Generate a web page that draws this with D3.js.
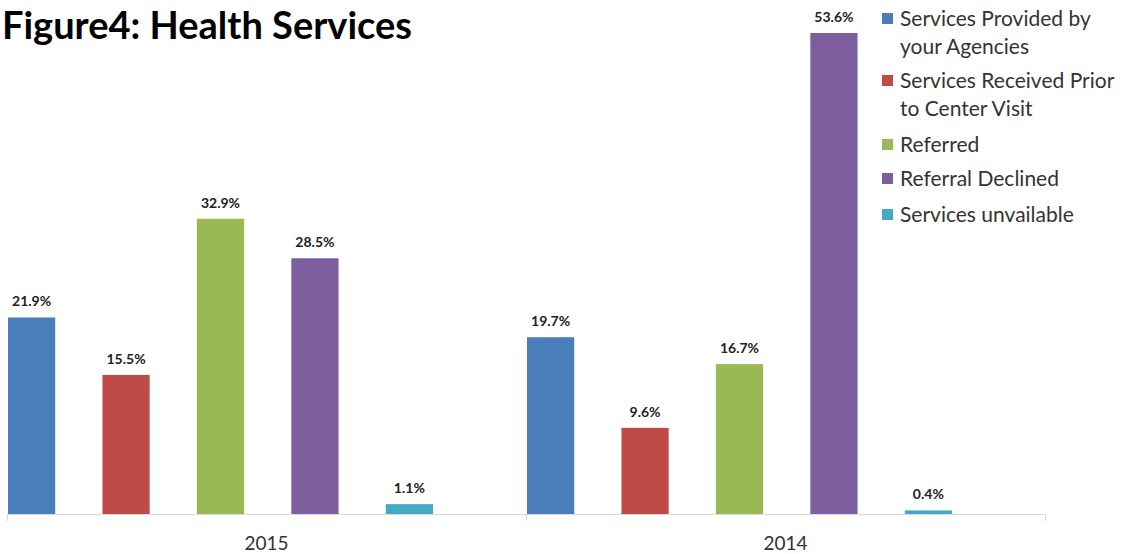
<!DOCTYPE html>
<html><head><meta charset="utf-8">
<script src="https://cdn.jsdelivr.net/npm/d3@7"></script>
<style>html,body{margin:0;padding:0;background:#fff;}svg{display:block;}</style>
</head><body>
<svg id="chart" width="1125" height="554"></svg>
<script>
const title = "Figure4: Health Services";
const categories = ["2015", "2014"];
const seriesNames = [
  ["Services Provided by", "your Agencies"],
  ["Services Received Prior", "to Center Visit"],
  ["Referred"],
  ["Referral Declined"],
  ["Services unvailable"]
];
const seriesColors = ["#4a7ebb", "#be4b48", "#98b954", "#7d5fa0", "#46aac5"];
const values2015 = [21.9, 15.5, 32.9, 28.5, 1.1];
const values2014 = [19.7, 9.6, 16.7, 53.6, 0.4];
const valuesByCategory = [values2015, values2014];

const svg = d3.select("#chart");
const font = "Lato, 'Open Sans', sans-serif";

const x0 = d3.scaleBand().domain(categories).range([7, 1045]).padding(0);
const x1 = d3.scaleBand().domain(d3.range(seriesNames.length)).range([1, 426]).paddingInner(0.5).paddingOuter(0);
const y = d3.scaleLinear().domain([0, 53.6]).range([514, 33]);

// title
svg.append("text").attr("x", 2).attr("y", 39)
  .attr("font-family", font).attr("font-weight", "bold").attr("font-size", 38)
  .attr("fill", "#000").text(title);

// axis
const axis = d3.axisBottom(x0).tickSize(0).tickFormat("");
const gAxis = svg.append("g").attr("transform", "translate(0,514)").call(axis);
gAxis.select(".domain").attr("stroke", "#d9d9d9").attr("stroke-width", 1);
const tickPos = [x0.range()[0]].concat(categories.map(c => x0(c) + x0.bandwidth()));
svg.append("g").selectAll("line").data(tickPos).join("line")
  .attr("x1", d => d + 0.5).attr("x2", d => d + 0.5).attr("y1", 514).attr("y2", 521)
  .attr("stroke", "#d9d9d9");
svg.append("g").selectAll("text").data(categories).join("text")
  .attr("x", d => x0(d) + x0.bandwidth() / 2).attr("y", 550)
  .attr("text-anchor", "middle").attr("font-family", font).attr("font-size", 19)
  .attr("fill", "#333").text(d => d);

// bars
const groups = svg.append("g").selectAll("g").data(categories).join("g")
  .attr("transform", d => `translate(${x0(d)},0)`);
groups.selectAll("rect").data((d, i) => valuesByCategory[i].map((v, j) => ({v, j})))
  .join("rect")
  .attr("x", d => x1(d.j)).attr("width", x1.bandwidth())
  .attr("y", d => y(d.v)).attr("height", d => y(0) - y(d.v))
  .attr("fill", d => seriesColors[d.j]);
groups.selectAll("text").data((d, i) => valuesByCategory[i].map((v, j) => ({v, j})))
  .join("text")
  .attr("x", d => x1(d.j) + x1.bandwidth() / 2).attr("y", d => y(d.v) - 11)
  .attr("text-anchor", "middle").attr("font-family", font).attr("font-weight", "bold")
  .attr("font-size", 14).attr("fill", "#222").text(d => d.v.toFixed(1) + "%");

// legend
const legendTop = [26, 88, 152, 186, 222];
const leg = svg.append("g");
seriesNames.forEach((lines, i) => {
  const g = leg.append("g");
  g.append("rect").attr("x", 882).attr("y", legendTop[i] - 13).attr("width", 11).attr("height", 11)
    .attr("fill", seriesColors[i]);
  lines.forEach((t, k) => {
    g.append("text").attr("x", 900).attr("y", legendTop[i] + k * 28)
      .attr("font-family", font).attr("font-size", 21).attr("fill", "#333").text(t);
  });
});
</script>
</body></html>
